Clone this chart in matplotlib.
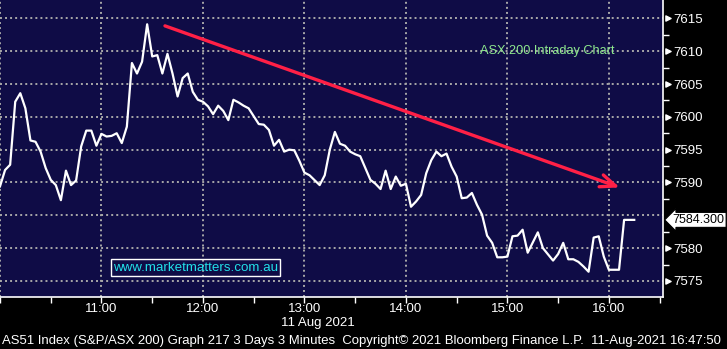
import matplotlib
matplotlib.use("Agg")
import matplotlib.pyplot as plt
import matplotlib.dates as mdates
import matplotlib.transforms as mtransforms
import numpy as np
import pandas as pd

# ASX 200 intraday, 3 minute bars, 11 Aug 2021
times = [
  "10:00", "10:03", "10:06", "10:09", "10:12", "10:15", "10:18", "10:21", "10:24", "10:27",
  "10:30", "10:33", "10:36", "10:39", "10:42", "10:45", "10:48", "10:51", "10:54", "10:57",
  "11:00", "11:03", "11:06", "11:09", "11:12", "11:15", "11:18", "11:21", "11:24", "11:27",
  "11:30", "11:33", "11:36", "11:39", "11:42", "11:45", "11:48", "11:51", "11:54", "11:57",
  "12:00", "12:03", "12:06", "12:09", "12:12", "12:15", "12:18", "12:21", "12:24", "12:27",
  "12:30", "12:33", "12:36", "12:39", "12:42", "12:45", "12:48", "12:51", "12:54", "12:57",
  "13:00", "13:03", "13:09", "13:12", "13:15", "13:18", "13:21", "13:24", "13:27",
  "13:30", "13:33", "13:36", "13:39", "13:42", "13:45", "13:48", "13:51", "13:54", "13:57",
  "14:00", "14:03", "14:06", "14:09", "14:12", "14:15", "14:18", "14:21", "14:24", "14:27",
  "14:30", "14:33", "14:36", "14:39", "14:42", "14:45", "14:48", "14:51", "14:54", "14:57",
  "15:00", "15:03", "15:06", "15:09", "15:12", "15:18", "15:21", "15:27",
  "15:30", "15:33", "15:36", "15:39", "15:42", "15:45", "15:48", "15:51", "15:54", "15:57",
  "16:00", "16:06", "16:09", "16:15",
]
prices = [
  7589.4, 7591.9, 7592.7, 7602.3, 7603.6, 7601.3, 7596.4, 7596.2, 7594.7, 7592.2,
  7590.4, 7589.6, 7587.3, 7591.8, 7589.6, 7590.3, 7595.5, 7597.9, 7597.9, 7595.6,
  7597.4, 7597.0, 7597.1, 7597.5, 7596.0, 7598.5, 7608.2, 7606.6, 7608.4, 7614.1,
  7609.2, 7609.4, 7606.6, 7609.6, 7606.6, 7603.1, 7605.9, 7606.6, 7603.8, 7602.6,
  7602.3, 7601.6, 7600.4, 7601.7, 7600.9, 7599.5, 7602.6, 7602.2, 7601.7, 7601.3,
  7600.1, 7598.9, 7598.8, 7598.0, 7595.6, 7596.5, 7594.7, 7595.0, 7594.9, 7593.3,
  7591.5, 7591.1, 7589.6, 7591.1, 7595.0, 7597.7, 7595.9, 7595.6, 7594.7,
  7594.3, 7594.0, 7592.2, 7590.4, 7589.8, 7589.0, 7591.8, 7589.0, 7590.9, 7589.5,
  7589.8, 7586.3, 7587.1, 7588.1, 7591.4, 7593.4, 7594.7, 7594.0, 7594.4, 7592.4,
  7590.9, 7587.6, 7587.7, 7588.4, 7586.6, 7585.1, 7581.9, 7580.8, 7578.6, 7578.6,
  7578.7, 7581.8, 7581.9, 7582.8, 7579.3, 7582.4, 7580.0, 7578.1,
  7579.1, 7580.8, 7578.3, 7578.3, 7577.9, 7577.2, 7576.4, 7581.6, 7581.8, 7578.7,
  7576.7, 7576.7, 7584.3, 7584.3,
]
last_price = 7584.300
y_ticks = [7575, 7580, 7585, 7590, 7595, 7600, 7605, 7610, 7615]

# hand drawn trend arrow
trend_start = ("11:36", 7614.0)
trend_end = ("16:08", 7589.1)

day = "2021-08-11 "
t = pd.to_datetime([day + s for s in times])

plt.rcParams["font.family"] = ["Liberation Sans", "DejaVu Sans"]

bg = "#0f0c46"
fig = plt.figure(figsize=(7.27, 3.49), dpi=100, facecolor="black")
ax = fig.add_axes([0.0, 52 / 349, 663 / 727, 297 / 349])
ax.set_facecolor(bg)

ax.plot(t, prices, color="white", lw=1.6, zorder=3)

ax.set_xlim(pd.Timestamp(day + "10:00"), pd.Timestamp(day + "16:32"))
ax.set_ylim(7572.55, 7617.8)

# axes / ticks
ax.yaxis.tick_right()
ax.set_yticks(y_ticks)
# the last price tag covers the 7585 label
ax.set_yticklabels(["" if v == 7585 else str(v) for v in y_ticks])
ax.set_yticks(np.arange(7577.5, 7616, 5), minor=True)
ax.xaxis.set_major_locator(mdates.HourLocator())
ax.xaxis.set_major_formatter(mdates.DateFormatter("%H:%M"))
ax.xaxis.set_minor_locator(mdates.MinuteLocator(byminute=[30]))
ax.tick_params(axis="both", which="both", colors="white", labelsize=9.5)
ax.tick_params(axis="y", which="major", length=0, pad=7.5)
ax.tick_params(axis="y", which="minor", length=4, width=1)
ax.tick_params(axis="x", which="both", length=4, width=1, pad=0.5)
for lab in ax.get_xticklabels():
  if lab.get_text() == "10:00":
    lab.set_visible(False)

for side in ["left", "top"]:
  ax.spines[side].set_visible(False)
for side in ["right", "bottom"]:
  ax.spines[side].set_color("white")
  ax.spines[side].set_linewidth(1.2)

ax.grid(True, which="major", color="#a8a8a8", linestyle=(0, (1, 1.6)), lw=1.4)

# little triangles at major y ticks
tr = mtransforms.blended_transform_factory(ax.transAxes, ax.transData)
yt = [v for v in y_ticks if v != 7585]
ax.scatter(np.full(len(yt), 1.008), yt, marker=">", s=14, color="white",
           transform=tr, clip_on=False, zorder=5)

# last price tag
ax.text(1.0145, last_price, f"{last_price:.3f}", transform=tr, ha="left", va="center",
        fontsize=9, color="black", zorder=6,
        bbox=dict(boxstyle="larrow,pad=0.12", fc="white", ec="black", lw=0.8))

# trend arrow
ax.annotate("", xy=(pd.Timestamp(day + trend_end[0]), trend_end[1]),
            xytext=(pd.Timestamp(day + trend_start[0]), trend_start[1]),
            arrowprops=dict(arrowstyle="->,head_length=1.1,head_width=0.45",
                            color="#ff2046", lw=2.4), zorder=4)

ax.text(0.825, 0.828, "ASX 200 Intraday Chart", transform=ax.transAxes,
        ha="center", va="center", fontsize=9.2, color="#8ee88e")
ax.text(0.295, 0.099, "www.marketmatters.com.au", transform=ax.transAxes,
        ha="center", va="center", fontsize=9.6, color="#22e0e8",
        bbox=dict(boxstyle="square,pad=0.18", fc="none", ec="white", lw=1))

fig.text(318 / 727, 1 - 323 / 349, "11 Aug 2021", ha="center", va="center",
         fontsize=9.5, color="white")
fig.text(2 / 727, 1 - 341 / 349,
         "AS51 Index (S&P/ASX 200) Graph 217 3 Days 3 Minutes  Copyright\u00a9 2021 "
         "Bloomberg Finance L.P.  11-Aug-2021 16:47:50",
         ha="left", va="center", fontsize=9.45, color="white")

fig.savefig("out.png", dpi=100, facecolor="black")
